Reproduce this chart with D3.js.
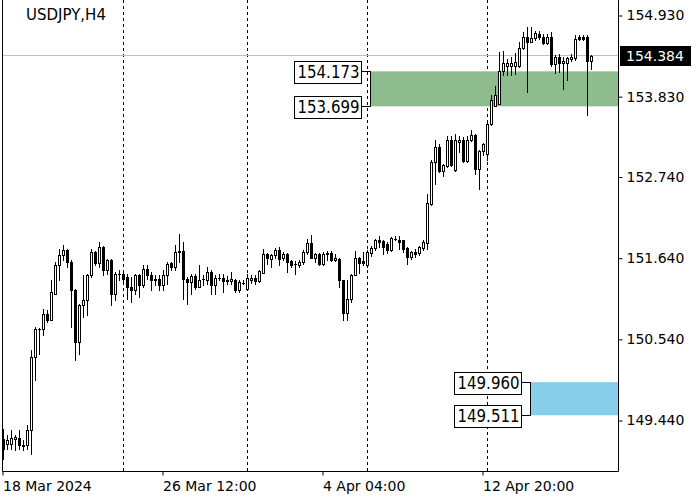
<!DOCTYPE html>
<html><head><meta charset="utf-8">
<script src="https://cdn.jsdelivr.net/npm/d3@7"></script>
<style>
html,body{margin:0;padding:0;background:#fff;}
svg{display:block;}
</style></head>
<body>
<svg id="chart" width="700" height="500"></svg>
<script>
const symbolTitle = "USDJPY,H4";
const opens = [149.193,149.117,149.117,149.193,149.207,149.112,149.103,149.306,150.300,150.684,150.684,150.887,150.797,151.158,151.542,151.678,151.745,151.587,151.203,150.503,151.000,151.068,151.407,151.723,151.574,151.791,151.474,151.610,151.158,151.420,151.429,151.384,151.249,151.203,151.407,151.271,151.497,151.407,151.362,151.362,151.271,151.407,151.574,151.520,151.723,151.736,151.362,151.316,151.393,151.249,151.357,151.348,151.452,151.271,151.375,151.375,151.348,151.330,151.348,151.203,151.298,151.226,151.348,151.375,151.330,151.438,151.700,151.633,151.678,151.755,151.646,151.691,151.601,151.565,151.542,151.587,151.723,151.845,151.646,151.691,151.556,151.709,151.709,151.619,151.633,151.339,150.896,151.090,151.407,151.646,151.601,151.542,151.709,151.782,151.890,151.872,151.836,151.745,151.899,151.890,151.881,151.782,151.655,151.723,151.709,151.782,151.845,152.378,152.942,153.146,152.820,152.884,153.236,152.829,153.213,153.236,152.956,153.236,153.304,152.852,153.100,153.046,153.462,153.697,153.733,154.184,154.252,154.252,154.252,154.252,154.492,154.645,154.568,154.627,154.681,154.645,154.555,154.645,154.266,154.374,154.284,154.284,154.343,154.356,154.636,154.636,154.636,154.311];
const highs = [149.329,149.239,149.306,149.239,149.306,149.171,149.374,150.390,150.707,150.698,150.955,150.932,151.339,151.587,151.768,151.813,151.768,151.610,151.226,151.023,151.407,151.429,151.768,151.736,151.858,151.800,151.633,151.633,151.452,151.474,151.452,151.429,151.384,151.429,151.429,151.542,151.542,151.452,151.407,151.407,151.474,151.587,151.587,151.813,151.971,151.858,151.384,151.429,151.429,151.542,151.407,151.520,151.474,151.407,151.420,151.429,151.393,151.452,151.362,151.339,151.339,151.429,151.407,151.407,151.483,151.768,151.709,151.700,151.782,151.791,151.723,151.709,151.619,151.601,151.619,151.745,151.904,151.949,151.709,151.709,151.723,151.736,151.736,151.700,151.646,151.348,151.339,151.429,151.736,151.655,151.723,151.745,151.800,151.904,151.935,151.890,151.858,151.926,151.935,151.935,151.890,151.791,151.736,151.768,151.800,151.881,152.513,152.965,153.236,153.191,152.911,153.290,153.290,153.326,153.290,153.281,153.290,153.381,153.326,153.109,153.200,153.484,153.846,153.981,154.433,154.455,154.343,154.374,154.419,154.568,154.704,154.772,154.772,154.726,154.717,154.681,154.681,154.704,154.388,154.410,154.365,154.365,154.410,154.659,154.659,154.659,154.659,154.401];
const lows = [148.922,149.058,149.058,149.035,149.058,149.035,149.058,148.990,149.984,150.345,150.594,150.774,150.797,151.149,151.339,151.610,151.520,150.707,150.255,150.345,150.842,150.865,151.384,151.542,151.520,151.407,151.429,151.000,151.068,151.339,151.316,151.090,151.045,151.158,151.113,151.249,151.362,151.203,151.271,151.203,151.203,151.294,151.474,151.474,151.587,151.090,151.023,151.158,151.226,151.249,151.271,151.294,151.158,151.158,151.348,151.181,151.294,151.294,151.181,151.181,151.285,151.226,151.303,151.294,151.316,151.438,151.565,151.520,151.646,151.542,151.619,151.452,151.520,151.429,151.520,151.565,151.700,151.646,151.587,151.542,151.542,151.619,151.601,151.601,151.249,150.806,150.806,151.045,151.407,151.438,151.542,151.520,151.664,151.755,151.791,151.700,151.709,151.736,151.890,151.768,151.723,151.565,151.632,151.655,151.678,151.754,151.768,152.355,152.649,152.807,152.748,152.875,152.884,152.820,153.078,152.942,152.942,153.227,152.784,152.581,153.033,152.965,153.450,153.697,153.733,154.117,154.117,154.117,154.139,154.230,154.478,153.891,154.568,154.600,154.614,154.537,154.537,154.252,154.148,154.162,153.936,154.049,154.320,154.329,154.600,154.600,153.575,154.207];
const closes = [149.058,149.180,149.207,149.216,149.103,149.094,149.306,150.300,150.684,150.675,150.887,150.797,151.181,151.542,151.678,151.745,151.587,151.203,150.503,151.000,151.068,151.407,151.723,151.574,151.791,151.474,151.610,151.158,151.429,151.429,151.362,151.249,151.203,151.407,151.271,151.497,151.407,151.339,151.339,151.271,151.407,151.565,151.520,151.723,151.736,151.362,151.316,151.393,151.249,151.348,151.362,151.452,151.271,151.375,151.370,151.330,151.330,151.357,151.203,151.316,151.303,151.375,151.375,151.330,151.465,151.700,151.646,151.678,151.755,151.633,151.691,151.587,151.542,151.560,151.587,151.723,151.845,151.646,151.691,151.565,151.700,151.691,151.619,151.646,151.339,150.896,151.090,151.407,151.646,151.574,151.574,151.723,151.782,151.890,151.858,151.791,151.754,151.917,151.903,151.858,151.768,151.655,151.723,151.700,151.791,151.858,152.387,152.942,153.146,152.820,152.897,153.236,152.897,153.236,153.236,152.956,153.236,153.304,152.852,153.100,153.182,153.462,153.778,153.859,154.184,154.284,154.284,154.284,154.297,154.492,154.645,154.568,154.627,154.690,154.636,154.555,154.636,154.275,154.365,154.284,154.320,154.356,154.374,154.614,154.614,154.614,154.311,154.384];
const priceTicks = [149.440, 150.540, 151.640, 152.740, 153.830, 154.930];
const timeLabels = ["18 Mar 2024", "26 Mar 12:00", "4 Apr 04:00", "12 Apr 20:00"];
const timeLabelBars = [0, 40, 80, 120];
const gridBars = [30, 61, 91, 121];
const currentPrice = 154.384;
const greenZone = [154.173, 153.699];
const greenZoneStartBar = 92;
const blueZone = [149.960, 149.511];
const blueZoneStartBar = 132;

const N = closes.length;
const svg = d3.select("#chart");
const font = "'DejaVu Sans', Verdana, sans-serif";

const plotL = 2.5, plotR = 618.5, plotB = 471.5;
const x = d3.scaleBand().domain(d3.range(N + 8)).range([1.5, 1.5 + 4 * (N + 8)]).padding(0);
const cx = i => x(i) + 2;
const y = d3.scaleLinear().domain([149.44, 154.93]).range([420.5, 15.5]);
const snap = v => Math.round(v - 0.5) + 0.5;

// zones
function zone(levels, startBar, color) {
  const xs = cx(startBar) - 0.5;
  const y1 = y(levels[0]), y2 = y(levels[1]);
  svg.append("rect").attr("x", xs).attr("y", y1).attr("width", plotR - xs).attr("height", y2 - y1)
    .attr("fill", color);
  const bw = 67, bh = 22, gap = 10;
  const bx = xs - gap - bw;
  levels.forEach(v => {
    const yy = snap(y(v));
    svg.append("line").attr("x1", bx + bw).attr("x2", xs).attr("y1", yy).attr("y2", yy)
      .attr("stroke", "#000").attr("stroke-width", 1);
    svg.append("rect").attr("x", Math.round(bx) + 0.5).attr("y", Math.round(yy - bh / 2) + 0.5)
      .attr("width", bw).attr("height", bh).attr("fill", "#fff").attr("stroke", "#000");
    svg.append("text").attr("x", bx + 3.5).attr("y", yy).attr("dy", "0.36em")
      .attr("font-family", font).attr("font-size", 17).attr("textLength", 62)
      .attr("lengthAdjust", "spacingAndGlyphs").attr("fill", "#000").text(v.toFixed(3));
  });
  svg.append("line").attr("x1", Math.round(xs) - 0.5).attr("x2", Math.round(xs) - 0.5)
    .attr("y1", snap(y1)).attr("y2", snap(y2)).attr("stroke", "#000");
}

// grid lines (dashed verticals)
gridBars.forEach(b => {
  svg.append("line").attr("x1", cx(b)).attr("x2", cx(b)).attr("y1", 0).attr("y2", plotB)
    .attr("stroke", "#000").attr("stroke-dasharray", "3,3");
});

zone(greenZone, greenZoneStartBar, "#8fbc8f");
zone(blueZone, blueZoneStartBar, "#87ceeb");

// current price line
svg.append("line").attr("x1", plotL).attr("x2", plotR).attr("y1", snap(y(currentPrice))).attr("y2", snap(y(currentPrice)))
  .attr("stroke", "#c0c0c0");

// candles
const g = svg.append("g");
d3.range(N).forEach(i => {
  const o = opens[i], c = closes[i], h = highs[i], l = lows[i];
  const xc = cx(i);
  g.append("line").attr("x1", xc).attr("x2", xc).attr("y1", Math.round(y(h))).attr("y2", Math.round(y(l)) + 1)
    .attr("stroke", "#000");
  const t = Math.round(y(Math.max(o, c))), b = Math.round(y(Math.min(o, c)));
  if (b - t < 1) {
    g.append("line").attr("x1", xc - 1.5).attr("x2", xc + 1.5).attr("y1", t + 0.5).attr("y2", t + 0.5).attr("stroke", "#000");
  } else {
    g.append("rect").attr("x", xc - 1).attr("y", t + 0.5).attr("width", 2).attr("height", b - t)
      .attr("fill", c >= o ? "#fff" : "#000").attr("stroke", "#000");
  }
});

// frame
svg.append("line").attr("x1", plotL).attr("x2", plotL).attr("y1", 0).attr("y2", plotB).attr("stroke", "#000");
svg.append("line").attr("x1", plotR).attr("x2", plotR).attr("y1", 0).attr("y2", plotB).attr("stroke", "#000");
svg.append("line").attr("x1", plotL).attr("x2", plotR).attr("y1", plotB).attr("y2", plotB).attr("stroke", "#000");

// price axis
const yAxis = d3.axisRight(y).tickValues(priceTicks).tickFormat(d3.format(".3f")).tickSize(4).tickPadding(4);
const ya = svg.append("g").attr("transform", `translate(${plotR},0)`).call(yAxis);
ya.select(".domain").remove();
ya.selectAll("text").attr("font-family", font).attr("font-size", 14).attr("fill", "#000");
ya.selectAll("line").attr("stroke", "#000");

// current price tag
const cy = y(currentPrice);
svg.append("rect").attr("x", 620).attr("y", Math.round(cy) - 10).attr("width", 71).attr("height", 20).attr("fill", "#000");
svg.append("text").attr("x", 626).attr("y", cy).attr("dy", "0.34em").attr("font-family", font)
  .attr("font-size", 14).attr("fill", "#fff").text(currentPrice.toFixed(3));

// time axis
timeLabelBars.forEach((b, k) => {
  const xx = cx(b) - 0.5;
  svg.append("line").attr("x1", xx).attr("x2", xx).attr("y1", plotB).attr("y2", plotB + 4).attr("stroke", "#000");
  svg.append("text").attr("x", xx).attr("y", 491).attr("font-family", font).attr("font-size", 14)
    .attr("fill", "#000").text(timeLabels[k]);
});

// title
svg.append("text").attr("x", 26).attr("y", 20).attr("font-family", font).attr("font-size", 15)
  .attr("fill", "#000").text(symbolTitle);
</script>
</body></html>
